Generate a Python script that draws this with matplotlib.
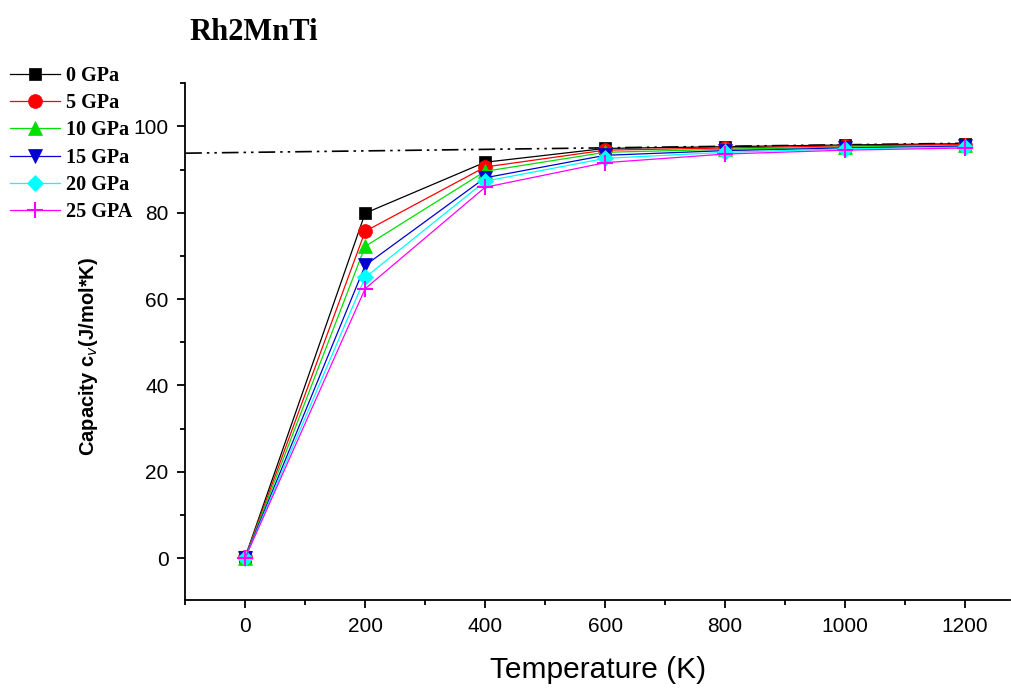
import matplotlib
matplotlib.use("Agg")
import matplotlib.pyplot as plt
from matplotlib.ticker import MultipleLocator

temps = [0, 200, 400, 600, 800, 1000, 1200]
labels = ["0 GPa", "5 GPa", "10 GPa", "15 GPa", "20 GPa", "25 GPA"]
cv_0 = [0.2, 79.9, 91.7, 94.9, 95.3, 95.7, 96.0]
cv_5 = [0.2, 75.7, 90.6, 94.5, 95.0, 95.5, 95.8]
cv_10 = [0.1, 72.2, 89.6, 94.0, 94.7, 95.2, 95.6]
cv_15 = [0.1, 67.8, 88.1, 93.3, 94.4, 95.0, 95.4]
cv_20 = [0.0, 65.0, 87.3, 92.6, 94.0, 94.8, 95.2]
cv_25 = [0.0, 62.4, 85.9, 91.6, 93.6, 94.5, 95.0]
series = [cv_0, cv_5, cv_10, cv_15, cv_20, cv_25]
colors = ["black", "red", "#00e000", "#0000d0", "cyan", "magenta"]
markers = ["s", "o", "^", "v", "D", "+"]
msizes = [9, 10, 10, 10, 8.5, 11]

dp_x = [-100, 1200]
dp_y = [93.8, 96.1]

fig = plt.figure(figsize=(10.12, 6.88), dpi=100)
ax = fig.add_axes([0.183, 0.128, 0.815, 0.751])

ax.plot(dp_x, dp_y, color="black", lw=1.2, dashes=[10, 3, 1.5, 3, 1.5, 3], zorder=1)

handles = []
for y, c, m, ms, lab in zip(series, colors, markers, msizes, labels):
    h, = ax.plot(temps, y, color=c, lw=0.9, marker=m, markersize=ms,
                 markerfacecolor=c, markeredgecolor=c,
                 markeredgewidth=1.5 if m == "+" else 0.5, label=lab, zorder=3)
    handles.append(h)

ax.set_xlim(-100, 1275)
ax.set_ylim(-9.7, 110)
ax.xaxis.set_major_locator(MultipleLocator(200))
ax.xaxis.set_minor_locator(MultipleLocator(100))
ax.yaxis.set_major_locator(MultipleLocator(20))
ax.yaxis.set_minor_locator(MultipleLocator(10))
for s in ["top", "right"]:
    ax.spines[s].set_visible(False)
for s in ["left", "bottom"]:
    ax.spines[s].set_linewidth(1.3)
ax.tick_params(which="major", length=6, width=1.3, labelsize=15, direction="out", pad=6)
ax.tick_params(which="minor", length=3.5, width=1.3, direction="out")
for t in ax.get_xticklabels() + ax.get_yticklabels():
    t.set_fontfamily("Liberation Sans")

ax.set_xlabel("Temperature (K)", fontsize=21.5, fontfamily="Liberation Sans")
ax.xaxis.set_label_coords(0.5, -0.1085)
ax.set_ylabel("Capacity c$_v$(J/mol*K)", fontsize=14.5, fontweight="bold",
              fontfamily="Liberation Sans")
ax.yaxis.set_label_coords(-0.103, 0.472)

fig.text(0.187, 0.953, "Rh2MnTi", fontsize=22, fontweight="bold",
         fontfamily="Liberation Serif", va="center", ha="left")

leg = fig.legend(handles=handles, loc="upper left", bbox_to_anchor=(0.006, 0.91),
                 frameon=False, prop={"family": "Liberation Serif", "weight": "bold", "size": 14.5},
                 handlelength=2.5, handletextpad=0.3, labelspacing=0.36, borderaxespad=0.0,
                 borderpad=0.2, markerscale=1.0)

fig.savefig("out.png", dpi=100)
